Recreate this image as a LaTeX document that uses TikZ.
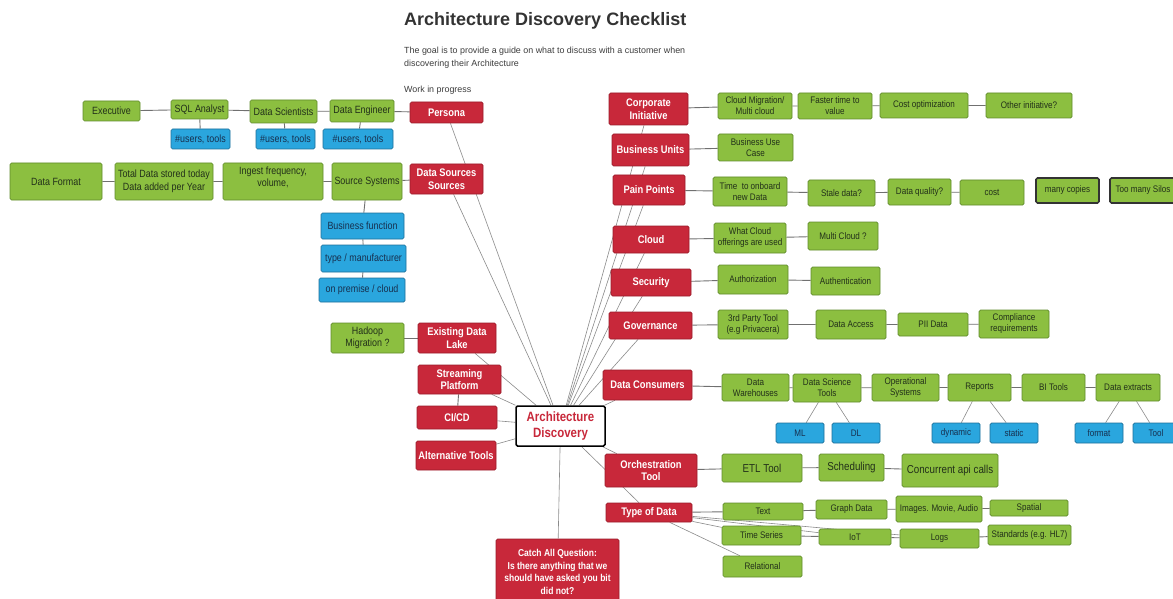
\documentclass[tikz,border=0pt]{standalone}
\usepackage{fontspec}
\setmainfont{Liberation Sans}[FakeStretch=0.85]
\newfontfamily\widefont{Liberation Sans}
\usetikzlibrary{backgrounds}
\definecolor{gfill}{HTML}{8CBF40}
\definecolor{gdraw}{HTML}{5F8A2C}
\definecolor{gtext}{HTML}{22301A}
\definecolor{bfill}{HTML}{2AA6DE}
\definecolor{bdraw}{HTML}{1D6E98}
\definecolor{btext}{HTML}{17304F}
\definecolor{rfill}{HTML}{C8283A}
\definecolor{rdraw}{HTML}{9A1C2A}
\definecolor{lgray}{HTML}{707070}
\definecolor{hgray}{HTML}{8A8A8A}
\definecolor{titlegray}{HTML}{333333}
\definecolor{subgray}{HTML}{3C3C3C}
\tikzset{
  box/.style={rectangle, rounded corners=1.5pt, inner sep=1pt, align=center, line width=0.7pt},
  gn/.style={box, fill=gfill, draw=gdraw, text=gtext, font=\fontsize{9.5}{11}\selectfont},
  gL/.style={gn, font=\fontsize{10.5}{12.5}\selectfont},
  gX/.style={gn, font=\fontsize{11.5}{13.5}\selectfont},
  bn/.style={box, fill=bfill, draw=bdraw, text=btext, font=\fontsize{9.5}{11}\selectfont},
  bL/.style={bn, font=\fontsize{10.5}{12}\selectfont},
  rn/.style={box, fill=rfill, draw=rdraw, text=white, font=\bfseries\fontsize{11}{12.5}\selectfont},
  thick box/.style={draw=black!80, line width=1.6pt},
  sz/.style 2 args={minimum width=#1pt, minimum height=#2pt},
  cl/.style={draw=lgray, line width=0.9pt},
  hub/.style={draw=hgray, line width=0.6pt}
}
\begin{document}
\begin{tikzpicture}[x=1pt,y=-1pt]
\clip (0,0) rectangle (1173,599);
% title block
\node[anchor=west, inner sep=0, text=titlegray, font=\widefont\bfseries\fontsize{18}{22}\selectfont] (title) at (404,21) {Architecture Discovery Checklist};
\node[anchor=north west, inner sep=0, align=left, text=subgray, font=\widefont\fontsize{8.9}{12.5}\selectfont] (sub) at (404,47) {The goal is to provide a guide on what to discuss with a customer when\\discovering their Architecture};
\node[anchor=west, inner sep=0, text=subgray, font=\widefont\fontsize{8.9}{11}\selectfont] (wip) at (404,90) {Work in progress};
% left side
\node[gL, sz={57}{20}] (exec) at (111.5,111) {Executive};
\node[gL, sz={57}{19}] (sql) at (199.5,109.5) {SQL Analyst};
\node[gL, sz={67}{23}] (dsci) at (283.5,111.5) {Data Scientists};
\node[gL, sz={64}{22}] (deng) at (362,111) {Data Engineer};
\node[rn, sz={73}{21}] (persona) at (446.5,112.5) {Persona};
\node[bL, sz={59}{20}] (u1) at (200.5,139) {\#users, tools};
\node[bL, sz={59}{20}] (u2) at (285.5,139) {\#users, tools};
\node[bL, sz={70}{20}] (u3) at (358,139) {\#users, tools};
\node[gL, sz={92}{37}] (dfmt) at (56,181.5) {Data Format};
\node[gL, sz={98}{37}] (total) at (164,181.5) {Total Data stored today\\Data added per Year};
\node[gL, sz={100}{37}, text depth=10pt] (ingest) at (273,181.5) {Ingest frequency,\\volume,};
\node[gL, sz={70}{37}] (src) at (367,181.5) {Source Systems};
\node[rn, sz={73}{30}] (dsrc) at (446.5,179) {Data Sources\\Sources};
\node[bL, sz={83}{26}] (bfun) at (362.5,226) {Business function};
\node[bL, sz={85}{27}] (mtype) at (363.5,258.5) {type / manufacturer};
\node[bL, sz={86}{24}] (prem) at (362,290) {on premise / cloud};
\node[gL, sz={73}{30}] (hadoop) at (367.5,338) {Hadoop\\Migration ?};
\node[rn, sz={78}{30}] (lake) at (457,338) {Existing Data\\Lake};
\node[rn, sz={83}{29}] (stream) at (459.5,379.5) {Streaming\\Platform};
\node[rn, sz={80}{23}] (cicd) at (457,417.5) {CI/CD};
\node[rn, sz={80}{29}] (alt) at (456,455.5) {Alternative Tools};
% hub
\node[box, sz={89}{40}, fill=white, draw=black, line width=1.5pt, text=rfill, font=\bfseries\fontsize{13.5}{16}\selectfont] (ad) at (560.5,426) {Architecture\\Discovery};
\node[rn, sz={123}{66}, font=\bfseries\fontsize{10}{12.5}\selectfont] (catch) at (557.5,572) {Catch All Question:\\Is there anything that we\\should have asked you bit\\did not?};
% right red
\node[rn, sz={79}{32}] (corp) at (648.5,109) {Corporate\\Initiative};
\node[rn, sz={77}{32}] (bu) at (650.5,150) {Business Units};
\node[rn, sz={72}{30}] (pain) at (649,190) {Pain Points};
\node[rn, sz={76}{27}] (cloud) at (651,239.5) {Cloud};
\node[rn, sz={80}{27}] (sec) at (651,282.5) {Security};
\node[rn, sz={83}{27}] (gov) at (650.5,325.5) {Governance};
\node[rn, sz={89}{30}] (cons) at (647.5,385) {Data Consumers};
\node[rn, sz={92}{33}] (orch) at (651,470.5) {Orchestration\\Tool};
\node[rn, sz={86}{19}] (tod) at (649,512.5) {Type of Data};
% right green
\node[gn, sz={74}{26}] (cm) at (755,106) {Cloud Migration/\\Multi cloud};
\node[gn, sz={74}{26}] (ft) at (835,106) {Faster time to\\value};
\node[gn, sz={88}{25}] (co) at (924,105.5) {Cost optimization};
\node[gn, sz={86}{25}] (oi) at (1029,105.5) {Other initiative?};
\node[gn, sz={75}{27}] (buc) at (755.5,147.5) {Business Use\\Case};
\node[gn, sz={74}{29}] (onb) at (750,191.5) {Time\ \ to onboard\\new Data};
\node[gn, sz={67}{26}] (stale) at (841.5,193) {Stale data?};
\node[gn, sz={63}{26}] (dq) at (919.5,192) {Data quality?};
\node[gn, sz={64}{25}] (cost) at (992,192.5) {cost};
\node[gn, thick box, sz={63}{25}] (copies) at (1067.5,190.5) {many copies};
\node[gn, thick box, sz={66}{25}] (silos) at (1143,190.5) {Too many Silos};
\node[gn, sz={72}{30}] (wco) at (750,238) {What Cloud\\offerings are used};
\node[gn, sz={70}{28}] (mc) at (843,236) {Multi Cloud ?};
\node[gn, sz={70}{29}] (authz) at (753,279.5) {Authorization};
\node[gn, sz={69}{28}] (authn) at (845.5,281) {Authentication};
\node[gn, sz={70}{29}] (tp) at (753,324.5) {3rd Party Tool\\(e.g Privacera)};
\node[gn, sz={70}{29}] (da) at (851,324.5) {Data Access};
\node[gn, sz={70}{23}] (pii) at (933,324.5) {PII Data};
\node[gn, sz={70}{28}] (comp) at (1014,324) {Compliance\\requirements};
\node[gn, sz={67}{27}] (dw) at (755.5,387.5) {Data\\Warehouses};
\node[gn, sz={68}{28}] (dst) at (827,388) {Data Science\\Tools};
\node[gn, sz={67}{27}] (ops) at (905.5,387.5) {Operational\\Systems};
\node[gn, sz={63}{27}] (rep) at (979.5,387.5) {Reports};
\node[gn, sz={63}{27}] (bi) at (1053.5,387.5) {BI Tools};
\node[gn, sz={64}{27}] (dx) at (1128,387.5) {Data extracts};
\node[bn, sz={48}{20}] (ml) at (800,433) {ML};
\node[bn, sz={48}{20}] (dl) at (856,433) {DL};
\node[bn, sz={48}{20}] (dyn) at (956,433) {dynamic};
\node[bn, sz={48}{20}] (stat) at (1014,433) {static};
\node[bn, sz={48}{20}] (fmt) at (1099,433) {format};
\node[bn, sz={46}{20}] (tool) at (1156,433) {Tool};
\node[gX, sz={80}{28}] (etl) at (762,468) {ETL Tool};
\node[gX, sz={65}{27}] (sched) at (851.5,467.5) {Scheduling};
\node[gX, sz={96}{33}] (conc) at (950,470.5) {Concurrent api calls};
\node[gn, sz={80}{17}] (txt) at (763,511.5) {Text};
\node[gn, sz={71}{19}] (graph) at (851.5,509.5) {Graph Data};
\node[gn, sz={86}{26}] (img) at (939,509) {Images. Movie, Audio};
\node[gn, sz={78}{16}] (spat) at (1029,508) {Spatial};
\node[gn, sz={79}{19}] (ts) at (761.5,535.5) {Time Series};
\node[gn, sz={72}{16}] (iot) at (855,537) {IoT};
\node[gn, sz={79}{19}] (logs) at (939.5,538.5) {Logs};
\node[gn, sz={83}{20}] (std) at (1029.5,535) {Standards (e.g. HL7)};
\node[gn, sz={79}{21}] (rel) at (762.5,566.5) {Relational};
% connectors
\begin{scope}[on background layer]
  \foreach \n in {persona,dsrc,lake,stream,cicd,alt,catch,corp,bu,pain,cloud,sec,gov,cons,orch,tod}
    \draw[hub] (ad) -- (\n);
  \draw[cl] (exec) -- (sql) -- (dsci) -- (deng) -- (persona);
  \draw[cl] (sql) -- (u1);
  \draw[cl] (dsci) -- (u2);
  \draw[cl] (deng) -- (u3);
  \draw[cl] (dfmt) -- (total) -- (ingest) -- (src) -- (dsrc);
  \draw[cl] (src) -- (bfun) -- (mtype) -- (prem);
  \draw[cl] (hadoop) -- (lake);
  \draw[cl] (stream) -- (cicd);
  \draw[cl] (corp) -- (cm) -- (ft) -- (co) -- (oi);
  \draw[cl] (bu) -- (buc);
  \draw[cl] (pain) -- (onb) -- (stale) -- (dq) -- (cost);
  \draw[cl] (cloud) -- (wco) -- (mc);
  \draw[cl] (sec) -- (authz) -- (authn);
  \draw[cl] (gov) -- (tp) -- (da) -- (pii) -- (comp);
  \draw[cl] (cons) -- (dw) -- (dst) -- (ops) -- (rep) -- (bi) -- (dx);
  \draw[hub] (dst) -- (ml);
  \draw[hub] (dst) -- (dl);
  \draw[hub] (rep) -- (dyn);
  \draw[hub] (rep) -- (stat);
  \draw[hub] (dx) -- (fmt);
  \draw[hub] (dx) -- (tool);
  \draw[cl] (orch) -- (etl) -- (sched) -- (conc);
  \draw[cl] (tod) -- (txt) -- (graph) -- (img) -- (spat);
  \draw[cl] (ts) -- (iot) -- (logs) -- (std);
  \draw[hub] (tod) -- (ts);
  \draw[hub] (tod) -- (iot);
  \draw[hub] (tod) -- (logs);
  \draw[hub] (tod) -- (rel);
\end{scope}
\end{tikzpicture}
\end{document}
